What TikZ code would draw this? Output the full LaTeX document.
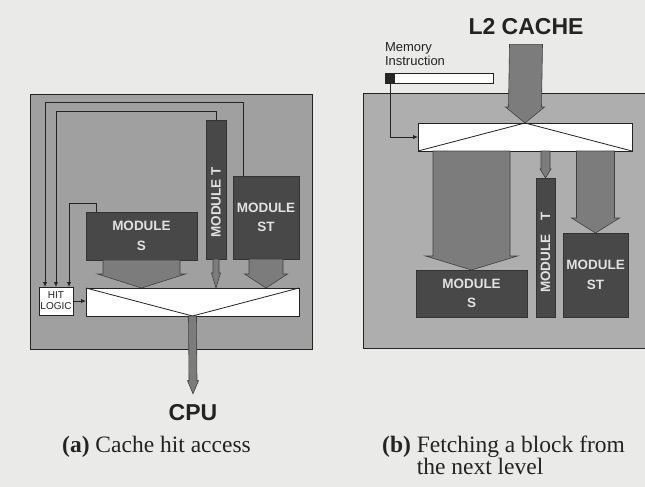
\documentclass[tikz,border=0pt]{standalone}
\usepackage{fontspec}
\setmainfont{Liberation Serif}
\setsansfont{Liberation Sans}
\usetikzlibrary{calc,arrows.meta}
\definecolor{paper}{RGB}{234,234,232}
\definecolor{panelA}{RGB}{160,160,160}
\definecolor{panelB}{RGB}{174,174,174}
\definecolor{moddark}{RGB}{72,72,72}
\definecolor{arrfill}{RGB}{124,124,124}
\definecolor{modtxt}{RGB}{225,225,225}
\definecolor{ink}{RGB}{35,35,35}
\newcommand\varr[5]{%
  \filldraw[blockarrow] ($(#1)+(-#3,0)$) -- ($(#2)+(-#3,-#5)$) -- ($(#2)+(-#4,-#5)$) -- (#2)
   -- ($(#2)+(#4,-#5)$) -- ($(#2)+(#3,-#5)$) -- ($(#1)+(#3,0)$) -- cycle;}
\begin{document}
\begin{tikzpicture}[x=1pt,y=-1pt,
  box/.style={rectangle, inner sep=0pt, outer sep=0pt, anchor=north west},
  panel/.style={box, draw=ink, line width=0.8pt},
  module/.style={box, fill=moddark, draw=black!80, line width=0.6pt, text=modtxt,
     font=\sffamily\bfseries\fontsize{13.5}{19.5}\selectfont, align=center},
  mux/.style={box, fill=white, draw=ink, line width=0.8pt},
  blockarrow/.style={fill=arrfill, draw=black!75, line width=0.6pt, line join=miter},
  wire/.style={draw=ink, line width=0.9pt, -{Latex[length=5pt,width=4.5pt]}},
  modlabel/.style={text=modtxt, font=\sffamily\bfseries\fontsize{13.5}{15}\selectfont, inner sep=0pt},
  bigsans/.style={font=\sffamily\bfseries\fontsize{23}{26}\selectfont, inner sep=0pt, text=ink},
  caption/.style={font=\fontsize{23.5}{22}\selectfont, inner sep=0pt, text=ink, align=left}
]
\useasboundingbox (0,0) rectangle (645,487);
\fill[paper] (0,0) rectangle (645,487);

% ---------------- (a) cache hit access ----------------
\node[panel, fill=panelA, minimum width=282pt, minimum height=255pt] (panA) at (30,94) {};
\node[mux, minimum width=213pt, minimum height=28pt] (muxA) at (86,288) {};
\node[module, minimum width=111pt, minimum height=48pt] (modS) at (86,212) {MODULE\\S};
\node[module, minimum width=20pt, minimum height=139pt] (modT) at (206,120) {};
\node[module, minimum width=66pt, minimum height=83pt] (modST) at (233,176) {MODULE\\ST};
\node[modlabel, rotate=90] (tTextA) at ($(modT.center)+(0,13)$) {MODULE T};
\node[box, fill=white, draw=ink, line width=0.8pt, minimum width=34pt, minimum height=28pt,
      align=center, font=\sffamily\fontsize{10}{11}\selectfont, text=ink] (hit) at (39,287) {HIT\\LOGIC};

\coordinate (tipS) at (modS.south |- muxA.north);
\coordinate (tipT) at (modT.south |- muxA.north);
\coordinate (tipST) at (modST.south |- muxA.north);
\varr{modS.south}{tipS}{38.5}{44}{14}
\varr{modT.south}{tipT}{3}{4.5}{15}
\varr{modST.south}{tipST}{17}{21.5}{14}

\draw[ink, line width=0.8pt] (muxA.north west) -- (muxA.south) -- (muxA.north east);

\node[bigsans, anchor=base] (cpu) at (193,420) {CPU};
\coordinate (cpuTip) at ($(cpu.north)+(0,-10)$);
\coordinate (cpuStart) at (muxA.south);
\varr{cpuStart}{cpuTip}{4}{5.5}{13}

\draw[wire] ($(modST.north west)+(10,0)$) -- ++(0,-74) -| ($(hit.north)+(-11,0)$);
\draw[wire] (modT.north) -- ++(0,-9) -| (hit.north);
\draw[wire] ($(modS.north west)+(10,0)$) -- ++(0,-9) -| ($(hit.north)+(13,0)$);
\draw[wire] (hit.east) -- (hit.east -| muxA.west);

\node[caption, anchor=base west] (capA) at (62,452) {\textbf{(a)} Cache hit access};

% ---------------- (b) fetching a block ----------------
\node[panel, fill=panelB, minimum width=290pt, minimum height=255pt] (panB) at (363,93) {};
\node[bigsans, anchor=base] (l2) at (526,35) {L2 CACHE};
\node[box, font=\sffamily\fontsize{13}{14}\selectfont, align=left, text=ink] (memtxt) at (385,43) {Memory\\Instruction};
\node[box, fill=white, draw=ink, line width=0.7pt, minimum width=108pt, minimum height=10pt] (instr) at (385,73) {};
\node[box, fill=black!85, minimum width=10pt, minimum height=10pt] (instrTag) at (385,73) {};

\node[mux, minimum width=214pt, minimum height=28pt] (muxB) at (418,123) {};
\node[module, minimum width=111pt, minimum height=47pt] (modSb) at (416,270) {MODULE\\S};
\node[module, minimum width=19pt, minimum height=139pt] (modTb) at (536,178) {};
\node[module, minimum width=65pt, minimum height=84pt] (modSTb) at (563,233) {MODULE\\ST};
\node[modlabel, rotate=90] (tTextB) at ($(modTb.center)+(0,5)$) {MODULE\hspace{14pt}T};

\coordinate (l2Start) at ($(l2.south)+(0,9)$);
\coordinate (l2Tip) at (muxB.north);
\varr{l2Start}{l2Tip}{16.5}{19.5}{16}

\coordinate (sbStart) at (modSb.north |- muxB.south);
\coordinate (tbStart) at (modTb.north |- muxB.south);
\coordinate (stbStart) at (modSTb.north |- muxB.south);
\varr{sbStart}{modSb.north}{38.5}{46}{14}
\varr{tbStart}{modTb.north}{4.5}{5.5}{9}
\varr{stbStart}{modSTb.north}{19}{24}{15}

\draw[ink, line width=0.8pt] (muxB.south west) -- (muxB.north) -- (muxB.south east);
\draw[wire] (instrTag.south) |- (muxB.west);

\node[caption, anchor=north west] (capB) at (382,436)
  {\textbf{(b)} Fetching a block from\\\hphantom{\textbf{(b)}\ }the next level};
\end{tikzpicture}
\end{document}
